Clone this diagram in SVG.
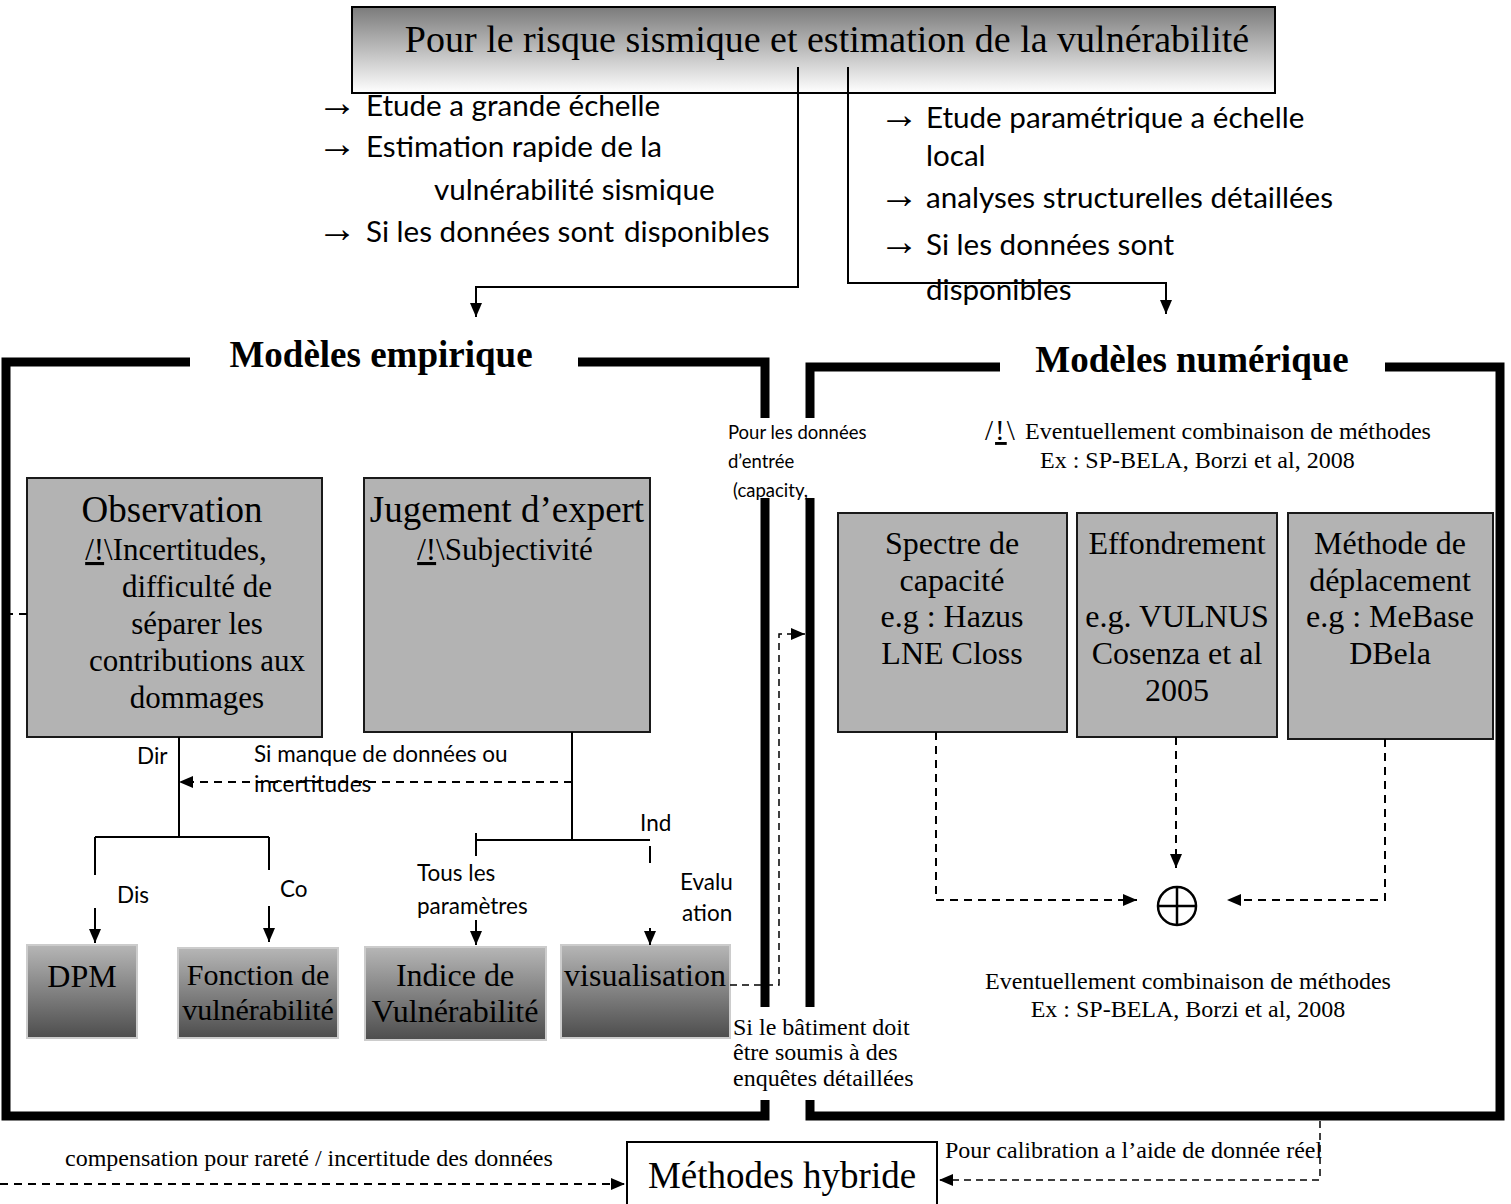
<svg xmlns="http://www.w3.org/2000/svg" width="1511" height="1204" viewBox="0 0 1511 1204">
  <defs>
    <linearGradient id="gTop" x1="0" y1="0" x2="0" y2="1">
      <stop offset="0" stop-color="#7b7b7b"/>
      <stop offset="1" stop-color="#ffffff"/>
    </linearGradient>
    <linearGradient id="gOut" x1="0" y1="0" x2="0" y2="1">
      <stop offset="0" stop-color="#b6b6b6"/>
      <stop offset="1" stop-color="#4d4d4d"/>
    </linearGradient>
    <marker id="ah" viewBox="0 0 14 12" refX="14" refY="6" markerWidth="14" markerHeight="12" markerUnits="userSpaceOnUse" orient="auto">
      <path d="M0,0 L14,6 L0,12 z" fill="#000"/>
    </marker>
    <style>
      .ser { font-family: "Liberation Serif", "Times New Roman", serif; fill: #000; }
      .bld { font-weight: bold; }
      .san { font-family: Lato, "Open Sans", sans-serif; fill: #000; }
      .arw { font-family: "Liberation Serif", "Times New Roman", serif; font-size: 40px; fill: #000; }
      .frame { fill: none; stroke: #000; stroke-width: 9; stroke-linejoin: miter; }
      .ln { fill: none; stroke: #000; stroke-width: 2; }
      .dash { fill: none; stroke: #000; stroke-width: 2; stroke-dasharray: 8 6; }
      .dthin { fill: none; stroke: #000; stroke-width: 1.5; stroke-dasharray: 7 5; }
      .box { fill: #b3b3b3; stroke: #1a1a1a; stroke-width: 2; }
      .out { fill: url(#gOut); stroke: #cccccc; stroke-width: 2; }
      .mid { text-anchor: middle; }
      .ul { text-decoration: underline; }
    </style>
  </defs>

  <!-- heading box -->
  <g id="heading">
    <rect x="352" y="7" width="923" height="86" fill="url(#gTop)" stroke="#000" stroke-width="2"/>
    <text class="ser mid" x="827" y="52" font-size="38">Pour le risque sismique et estimation de la vulnérabilité</text>
  </g>

  <!-- criteria lists under the heading -->
  <g id="criteria-left" class="san" font-size="29.6">
    <text class="arw" x="317" y="116">→</text>
    <text x="366" y="116">Etude a grande échelle</text>
    <text class="arw" x="317" y="157">→</text>
    <text x="366" y="157">Estimation rapide de la</text>
    <text x="434" y="200">vulnérabilité sismique</text>
    <text class="arw" x="317" y="242">→</text>
    <text x="366" y="242">Si les données sont</text>
    <text x="624" y="242">disponibles</text>
  </g>
  <g id="criteria-right" class="san" font-size="29.6">
    <text class="arw" x="879" y="128">→</text>
    <text x="926" y="128">Etude paramétrique a échelle</text>
    <text x="926" y="166">local</text>
    <text class="arw" x="879" y="208">→</text>
    <text x="926" y="208">analyses structurelles détaillées</text>
    <text class="arw" x="879" y="255">→</text>
    <text x="926" y="255">Si les données sont</text>
    <text x="926" y="300">disponibles</text>
  </g>

  <!-- empirical models frame -->
  <g id="frame-empirique">
    <path class="frame" d="M190,362 H6 V1116 H765 V1100"/>
    <path class="frame" d="M578,362 H765 V418"/>
    <path class="frame" d="M765,498 V1007"/>
    <text class="ser bld mid" x="381" y="367" font-size="37">Modèles empirique</text>
  </g>

  <!-- numerical models frame -->
  <g id="frame-numerique">
    <path class="frame" d="M1000,367 H810 V418"/>
    <path class="frame" d="M810,498 V1007"/>
    <path class="frame" d="M810,1100 V1116 H1500 V367 H1385"/>
    <text class="ser bld mid" x="1192" y="372" font-size="37">Modèles numérique</text>
  </g>

  <g id="note-input" class="san" font-size="18.5">
    <text x="728" y="439">Pour les données</text>
    <text x="728" y="468">d’entrée</text>
    <text x="733" y="497">(capacity,</text>
  </g>

  <g id="note-combi-top" class="ser" font-size="24">
    <text x="985" y="440" font-size="29" letter-spacing="2">/<tspan class="ul">!</tspan>\</text>
    <text x="1025" y="439">Eventuellement combinaison de méthodes</text>
    <text x="1040" y="468">Ex : SP-BELA, Borzi et al, 2008</text>
  </g>

  <!-- empirical sources -->
  <g id="observation">
    <rect class="box" x="27" y="478" width="295" height="259"/>
    <g class="ser mid">
      <text x="172" y="522" font-size="37">Observation</text>
      <text x="176" y="560" font-size="31"><tspan class="ul">/!</tspan>\Incertitudes,</text>
      <text x="197" y="597" font-size="31">difficulté de</text>
      <text x="197" y="634" font-size="31">séparer les</text>
      <text x="197" y="671" font-size="31">contributions aux</text>
      <text x="197" y="708" font-size="31">dommages</text>
    </g>
  </g>
  <g id="jugement">
    <rect class="box" x="364" y="478" width="286" height="254"/>
    <g class="ser mid">
      <text x="507" y="522" font-size="37">Jugement d’expert</text>
      <text x="505" y="560" font-size="31"><tspan class="ul">/!</tspan>\Subjectivité</text>
    </g>
  </g>

  <!-- empirical outputs -->
  <g id="dpm">
    <rect class="out" x="27" y="945" width="110" height="93"/>
    <text class="ser mid" x="82" y="987" font-size="32">DPM</text>
  </g>
  <g id="fonction">
    <rect class="out" x="178" y="948" width="160" height="90"/>
    <text class="ser mid" x="258" y="985" font-size="30">Fonction de</text>
    <text class="ser mid" x="258" y="1020" font-size="30">vulnérabilité</text>
  </g>
  <g id="indice">
    <rect class="out" x="365" y="947" width="181" height="93"/>
    <text class="ser mid" x="455" y="986" font-size="32">Indice de</text>
    <text class="ser mid" x="455" y="1022" font-size="32">Vulnérabilité</text>
  </g>
  <g id="visualisation">
    <rect class="out" x="561" y="945" width="169" height="93"/>
    <text class="ser mid" x="645" y="986" font-size="32">visualisation</text>
  </g>

  <!-- numerical methods -->
  <g id="spectre">
    <rect class="box" x="838" y="513" width="229" height="219"/>
    <g class="ser mid" font-size="32">
      <text x="952" y="554">Spectre de</text>
      <text x="952" y="591">capacité</text>
      <text x="952" y="627">e.g : Hazus</text>
      <text x="952" y="664">LNE Closs</text>
    </g>
  </g>
  <g id="effondrement">
    <rect class="box" x="1077" y="513" width="200" height="224"/>
    <g class="ser mid" font-size="32">
      <text x="1177" y="554">Effondrement</text>
      <text x="1177" y="627">e.g. VULNUS</text>
      <text x="1177" y="664">Cosenza et al</text>
      <text x="1177" y="701">2005</text>
    </g>
  </g>
  <g id="deplacement">
    <rect class="box" x="1288" y="513" width="205" height="226"/>
    <g class="ser mid" font-size="32">
      <text x="1390" y="554">Méthode de</text>
      <text x="1390" y="591">déplacement</text>
      <text x="1390" y="627">e.g : MeBase</text>
      <text x="1390" y="664">DBela</text>
    </g>
  </g>

  <g id="combinaison">
    <circle cx="1177" cy="906" r="19" fill="none" stroke="#000" stroke-width="2.5"/>
    <path d="M1158,906 H1196 M1177,887 V925" stroke="#000" stroke-width="2.5"/>
  </g>

  <g id="note-combi-bottom" class="ser mid" font-size="24">
    <text x="1188" y="989">Eventuellement combinaison de méthodes</text>
    <text x="1188" y="1017">Ex : SP-BELA, Borzi et al, 2008</text>
  </g>

  <g id="note-enquete" class="ser" font-size="24">
    <text x="733" y="1035">Si le bâtiment doit</text>
    <text x="733" y="1060">être soumis à des</text>
    <text x="733" y="1086">enquêtes détaillées</text>
  </g>

  <g id="hybride">
    <rect x="627" y="1142" width="310" height="72" fill="#fff" stroke="#000" stroke-width="2"/>
    <text class="ser mid" x="782" y="1188" font-size="37">Méthodes hybride</text>
  </g>

  <!-- connectors -->
  <g id="connectors">
    <path class="ln" d="M798,67 V287 H476 V317" marker-end="url(#ah)"/>
    <path class="ln" d="M848,67 V283 H1166 V314" marker-end="url(#ah)"/>

    <path class="ln" d="M179,737 V837 M95,837 H269 M95,837 V875 M269,837 V870"/>
    <path class="ln" d="M95,908 V943" marker-end="url(#ah)"/>
    <path class="ln" d="M269,906 V942" marker-end="url(#ah)"/>

    <path class="ln" d="M572,732 V840 M476,840 H650 M476,833 V856 M650,846 V863"/>
    <path class="ln" d="M476,920 V945" marker-end="url(#ah)"/>
    <path class="ln" d="M650,928 V945" marker-end="url(#ah)"/>

    <path class="dash" d="M572,782 H179" marker-end="url(#ah)"/>

    <path class="dthin" d="M730,985 H779 V634 H805" marker-end="url(#ah)"/>

    <path class="dash" d="M936,732 V900 H1137" marker-end="url(#ah)"/>
    <path class="dash" d="M1176,737 V868" marker-end="url(#ah)"/>
    <path class="dash" d="M1385,739 V900 H1227" marker-end="url(#ah)"/>

    <path class="dash" d="M27,614 H0"/>
    <path class="dash" d="M0,1184 H625" marker-end="url(#ah)"/>
    <path class="dthin" d="M1320,1121 V1180 H939" marker-end="url(#ah)"/>
  </g>

  <!-- connector labels -->
  <g id="labels" class="san" font-size="22.5">
    <text x="137" y="764">Dir</text>
    <text x="254" y="762">Si manque de données ou</text>
    <text x="254" y="792">incertitudes</text>
    <text x="117" y="903">Dis</text>
    <text x="280" y="897">Co</text>
    <text x="640" y="831">Ind</text>
    <text x="417" y="881">Tous les</text>
    <text x="417" y="914">paramètres</text>
    <text x="680" y="890">Evalu</text>
    <text x="682" y="921">ation</text>
  </g>

  <g id="compensation-label">
    <text class="ser" x="65" y="1166" font-size="24">compensation pour rareté / incertitude des données</text>
  </g>
  <g id="calibration-label">
    <text class="ser" x="945" y="1158" font-size="24">Pour calibration a l’aide de donnée réel</text>
  </g>
</svg>
